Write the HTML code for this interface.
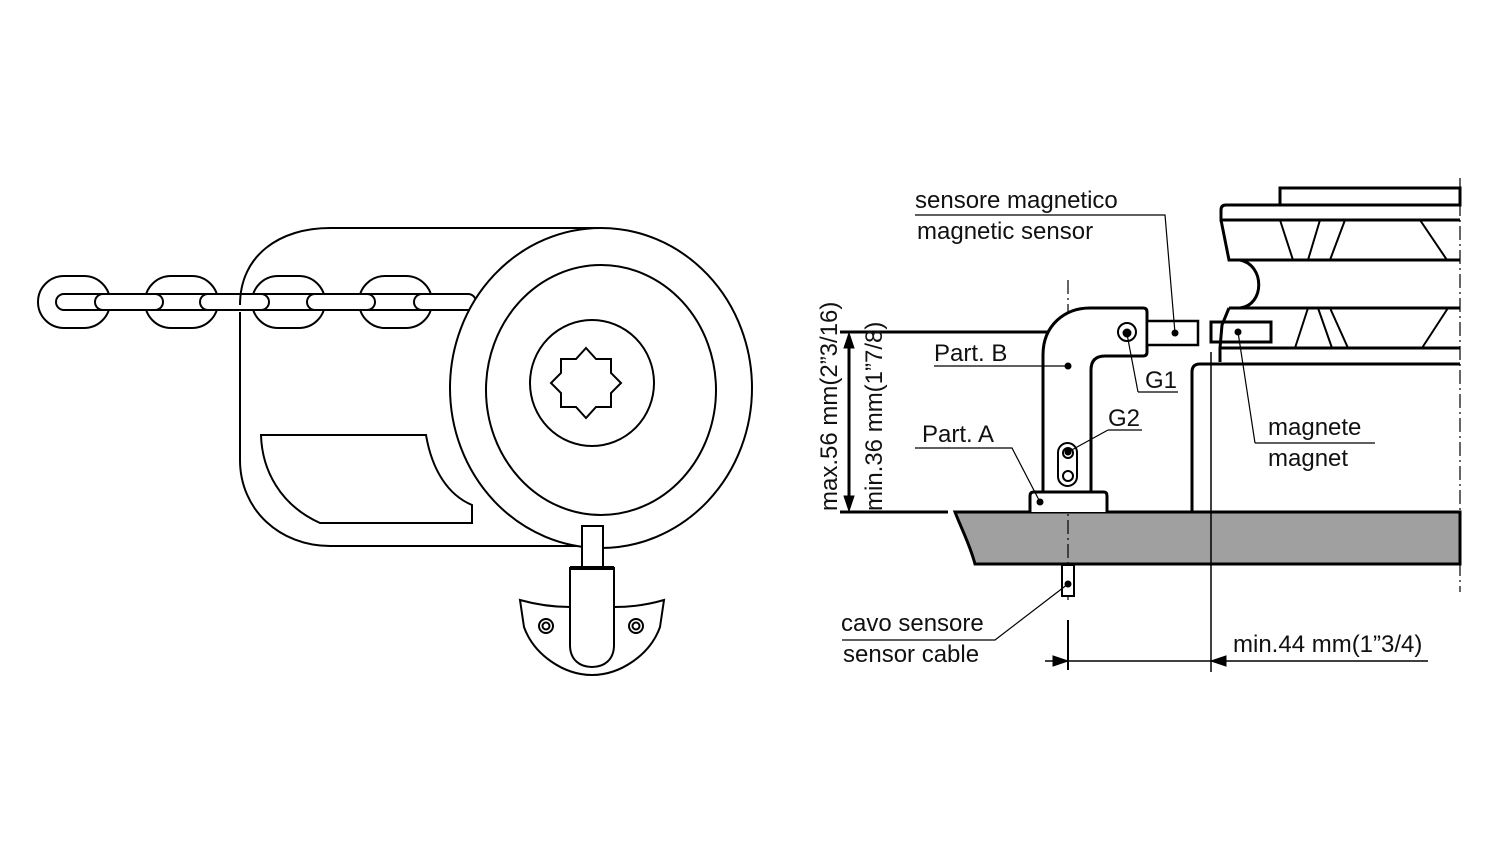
<!DOCTYPE html>
<html><head><style>
html,body{margin:0;padding:0;background:#fff;}
svg{display:block;}
text{font-family:"Liberation Sans",Arial,sans-serif;font-size:24px;fill:#111;}
</style></head><body>
<svg width="1488" height="855" viewBox="0 0 1488 855" xmlns="http://www.w3.org/2000/svg">
<g fill="none" stroke="#000" stroke-width="2">
<!-- LEFT: chain -->
<rect x="38" y="276" width="72" height="52" rx="26"/>
<rect x="145" y="276" width="73" height="52" rx="26"/>
<rect x="252" y="276" width="73" height="52" rx="26"/>
<rect x="359" y="276" width="73" height="52" rx="26"/>
<rect x="56" y="294" width="420" height="16" rx="8" fill="#fff"/>
<path d="M103 294 a8 8 0 0 0 0 16 M155 294 a8 8 0 0 1 0 16 M208 294 a8 8 0 0 0 0 16 M261 294 a8 8 0 0 1 0 16 M315 294 a8 8 0 0 0 0 16 M367 294 a8 8 0 0 1 0 16 M422 294 a8 8 0 0 0 0 16"/>
<!-- body -->
<path d="M240 305 C240 255 280 228 330 228 L600 228"/>
<path d="M240 312 L240 460 C240 510 280 546 330 546 L582 546"/>
<ellipse cx="601" cy="388" rx="151" ry="160" fill="#fff"/>
<ellipse cx="601" cy="390" rx="115" ry="125"/>
<ellipse cx="592" cy="383" rx="62" ry="63"/>
<polygon points="586,348 596,359 611,359 611,373 621,383 611,393 611,407 596,407 586,418 576,407 561,407 561,393 551,383 561,373 561,359 576,359"/>
<path d="M261 435 L426 435 C432 470 448 495 472 505 L472 523 L320 523 C280 505 262 470 261 435 Z"/>
<!-- pin and handle -->
<rect x="582" y="526" width="21" height="42" fill="#fff"/>
<path d="M520 600 Q545 607 570 607 L614 607 Q640 607 664 600 L660 627 C650 655 620 675 592 675 C564 675 534 655 524 627 Z" fill="#fff"/>
<path d="M570 568 L614 568 L614 645 C614 660 604 667 592 667 C580 667 570 660 570 645 Z" fill="#fff"/>
<line x1="570" y1="568" x2="614" y2="568" stroke-width="4"/>
<circle cx="546" cy="626" r="7"/><circle cx="546" cy="626" r="3.5"/>
<circle cx="636" cy="626" r="7"/><circle cx="636" cy="626" r="3.5"/>
</g>

<!-- RIGHT DIAGRAM -->
<g fill="none" stroke="#000">
<path d="M955 512 L1460 512 L1460 564 L975 564 C970 545 962 530 955 512 Z" fill="#a0a0a0" stroke-width="3"/>
<line x1="840" y1="332" x2="1106" y2="332" stroke-width="3"/>
<line x1="840" y1="512" x2="948" y2="512" stroke-width="3"/>
<line x1="849" y1="340" x2="849" y2="504" stroke-width="3"/>
<polygon points="849,333 844,348 854,348" fill="#000"/>
<polygon points="849,511 844,496 854,496" fill="#000"/>
<line x1="1068" y1="280" x2="1068" y2="600" stroke-width="1.2" stroke-dasharray="14,4,2,4"/>
<line x1="1068" y1="620" x2="1068" y2="670" stroke-width="2"/>
<line x1="1460" y1="178" x2="1460" y2="592" stroke-width="1.2" stroke-dasharray="14,4,2,4"/>
<line x1="1211" y1="352" x2="1211" y2="672" stroke-width="1.5"/>
<path d="M1043 493 L1043 355 C1043 325 1065 308 1090 308 L1143 308 Q1147 308 1147 312 L1147 352 Q1147 356 1143 356 L1105 356 Q1091 356 1091 370 L1091 493" stroke-width="3" fill="#fff"/>
<path d="M1030 512 L1030 496 Q1030 492 1034 492 L1104 492 Q1107 492 1107 496 L1107 512" stroke-width="3" fill="#fff"/>
<rect x="1058" y="443" width="19" height="43" rx="9.5" stroke-width="2"/>
<circle cx="1068" cy="476" r="5" stroke-width="2"/>
<circle cx="1068" cy="453" r="5" stroke-width="2"/>
<circle cx="1127" cy="332" r="9" stroke-width="2"/>
<circle cx="1127" cy="333" r="4" fill="#000"/>
<rect x="1147" y="321" width="51" height="24" stroke-width="2.5" fill="#fff"/>
<rect x="1211" y="322" width="60" height="20" stroke-width="3"/>
<rect x="1062" y="565" width="12" height="31" stroke-width="2" fill="#fff"/>
<path d="M1192 512 L1192 372 Q1192 364 1200 364 L1460 364" stroke-width="3"/>
<rect x="1280" y="188" width="180" height="17" stroke-width="3" fill="#fff"/>
<path d="M1460 205 L1226 205 Q1221 205 1221 210 L1221 220 L1460 220" stroke-width="3"/>
<path d="M1221 220 L1229 260 L1460 260" stroke-width="3"/>
<path d="M1229 260 L1240 260 C1265 265 1265 305 1240 308 L1229 308 L1460 308" stroke-width="3"/>
<path d="M1229 308 L1222 325 L1220 348 L1460 348 M1220 348 L1220 362" stroke-width="3"/>
<path d="M1280 220 L1293 260 M1320 220 L1308 260 M1345 220 L1330 260 M1420 220 L1447 260 M1295 348 L1308 308 M1318 308 L1332 348 M1330 308 L1348 348 M1448 308 L1422 348" stroke-width="2"/>
<line x1="1045" y1="661" x2="1428" y2="661" stroke-width="1.5"/>
<polygon points="1068,661 1053,656 1053,666" fill="#000"/>
<polygon points="1211,661 1226,656 1226,666" fill="#000"/>
<g stroke-width="1.2">
<path d="M915 215 L1165 215 L1175 333"/>
<path d="M934 366 L1068 366"/>
<path d="M915 448 L1012 448 L1040 502"/>
<path d="M1138 392 L1178 392 M1138 392 L1127 334"/>
<path d="M1108 430 L1142 430 M1108 430 L1068 452"/>
<path d="M1255 443 L1375 443 M1255 443 L1238 332"/>
<path d="M842 640 L995 640 L1068 584"/>
</g>
</g>
<g fill="#000">
<circle cx="1175" cy="333" r="3.5"/><circle cx="1238" cy="332" r="3.5"/>
<circle cx="1068" cy="366" r="3.5"/><circle cx="1040" cy="502" r="3.5"/>
<circle cx="1068" cy="452" r="3.5"/><circle cx="1068" cy="584" r="3.5"/>
</g>
<text x="915" y="208">sensore magnetico</text>
<text x="917" y="239">magnetic sensor</text>
<text x="934" y="361">Part. B</text>
<text x="922" y="442">Part. A</text>
<text x="1145" y="388">G1</text>
<text x="1108" y="426">G2</text>
<text x="1268" y="435">magnete</text>
<text x="1268" y="466">magnet</text>
<text x="841" y="631">cavo sensore</text>
<text x="843" y="662">sensor cable</text>
<text x="1233" y="652">min.44 mm(1”3/4)</text>
<text transform="translate(837,511) rotate(-90)">max.56 mm(2”3/16)</text>
<text transform="translate(882,511) rotate(-90)">min.36 mm(1”7/8)</text>
</svg>
</body></html>
